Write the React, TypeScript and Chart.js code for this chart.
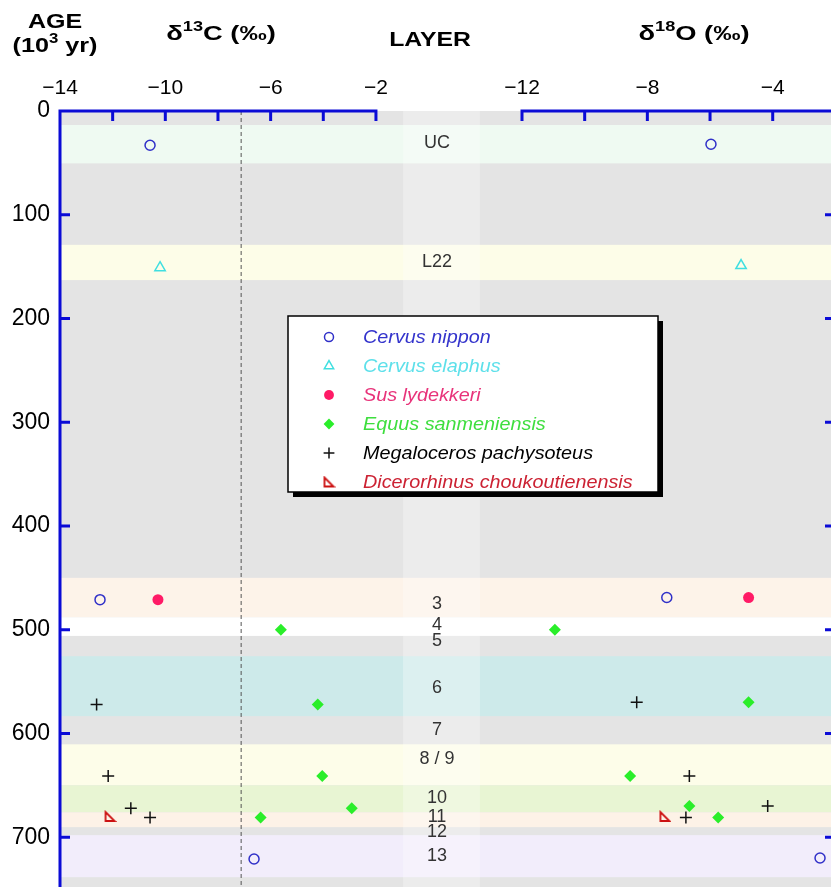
import React, { useEffect, useRef } from 'react';
import { Chart, registerables } from 'chart.js';
import { drawPoint } from 'chart.js/helpers';

Chart.register(...registerables);

// ---------- data ----------
const ageTicks = [0, 100, 200, 300, 400, 500, 600, 700];
const c13Ticks = [-14, -12, -10, -8, -6, -4, -2];
const c13Labels = [-14, -10, -6, -2];
const o18Ticks = [-12, -10, -8, -6, -4];
const o18Labels = [-12, -8, -4];

const layerNames = ['UC', 'L22', '3', '4', '5', '6', '7', '8 / 9', '10', '11', '12', '13'];
const layerTop = [13.5, 129, 450, 488, 506, 525.5, 583.5, 610.5, 650, 676, 690.5, 698];
const layerBottom = [50.5, 163, 488, 506, 525.5, 583.5, 610.5, 650, 676, 690.5, 698, 738.5];
const layerLabelAge = [31, 145.5, 475, 495.5, 511, 556, 596.5, 624.5, 662.5, 680.5, 695, 718];
const c13Reference = -7.12;

const nipponC13Age = [33, 471, 721];
const nipponC13 = [-10.58, -12.48, -6.63];
const nipponO18Age = [32, 469, 720];
const nipponO18 = [-5.97, -7.38, -2.49];

const elaphusC13Age = [151];
const elaphusC13 = [-10.2];
const elaphusO18Age = [149];
const elaphusO18 = [-5.01];

const susC13Age = [471];
const susC13 = [-10.28];
const susO18Age = [469];
const susO18 = [-4.77];

const equusC13Age = [500, 572, 641, 672, 681];
const equusC13 = [-5.61, -4.21, -4.04, -2.92, -6.38];
const equusO18Age = [500, 570, 641, 670, 681];
const equusO18 = [-10.95, -4.77, -8.55, -6.66, -5.74];

const megaC13Age = [572, 641, 672, 681];
const megaC13 = [-12.61, -12.17, -11.31, -10.58];
const megaO18Age = [570, 641, 670, 681];
const megaO18 = [-8.34, -6.66, -4.16, -6.77];

const dicerC13Age = [680];
const dicerC13 = [-12.1];
const dicerO18Age = [680];
const dicerO18 = [-7.44];

const speciesNames = [
  'Cervus nippon',
  'Cervus elaphus',
  'Sus lydekkeri',
  'Equus sanmeniensis',
  'Megaloceros pachysoteus',
  'Dicerorhinus choukoutienensis',
];
const speciesC13 = [nipponC13, elaphusC13, susC13, equusC13, megaC13, dicerC13];
const speciesC13Age = [nipponC13Age, elaphusC13Age, susC13Age, equusC13Age, megaC13Age, dicerC13Age];
const speciesO18 = [nipponO18, elaphusO18, susO18, equusO18, megaO18, dicerO18];
const speciesO18Age = [nipponO18Age, elaphusO18Age, susO18Age, equusO18Age, megaO18Age, dicerO18Age];

// ---------- styles ----------
const FAMILY = '"Liberation Sans", Arial, Helvetica, sans-serif';
const AXIS_BLUE = '#0b0bd6';
const BG_GRAY = '#e4e4e4';
const layerColors = ['#effaf2', '#fdfde8', '#fdf3e9', '#ffffff', '#e4e4e4', '#cdeaea', '#e4e4e4', '#fdfde9', '#e8f5d3', '#fdf2e7', '#e4e4e4', '#f2edfb'];
const layerColumn = [-0.97, 1.95];
const layerLabelX = 0.32;
const legendTextColors = ['#3434cc', '#5ee0ea', '#e8337a', '#3ede3e', '#000000', '#cc2233'];

function makeRightTriangle(color: string) {
  const c = document.createElement('canvas');
  c.width = 13;
  c.height = 13;
  const g = c.getContext('2d')!;
  g.strokeStyle = color;
  g.lineWidth = 1.8;
  g.beginPath();
  g.moveTo(2, 2);
  g.lineTo(2, 11);
  g.lineTo(11, 11);
  g.closePath();
  g.stroke();
  return c;
}

function fmtMinus(v: number) {
  return v < 0 ? '\u2212' + Math.abs(v) : String(v);
}

type Part = { text: string; font: string; dy: number };

function drawParts(ctx: CanvasRenderingContext2D, parts: Part[], cx: number, cy: number, sx: number) {
  ctx.save();
  ctx.textBaseline = 'middle';
  ctx.textAlign = 'left';
  ctx.fillStyle = '#000';
  let total = 0;
  const widths = parts.map((p) => {
    ctx.font = p.font;
    const w = ctx.measureText(p.text).width;
    total += w;
    return w;
  });
  ctx.translate(cx, cy);
  ctx.scale(sx, 1);
  let x = -total / 2;
  parts.forEach((p, i) => {
    ctx.font = p.font;
    ctx.fillText(p.text, x, p.dy);
    x += widths[i];
  });
  ctx.restore();
}

const zeroPadding = (s: any) => {
  s.paddingLeft = 0;
  s.paddingRight = 0;
  s.paddingTop = 0;
  s.paddingBottom = 0;
};

export default function App() {
  const ref = useRef<HTMLCanvasElement | null>(null);

  useEffect(() => {
    if (!ref.current) return;
    const tri = makeRightTriangle('#cc1111');
    const markerStyles: any[] = [
      { pointStyle: 'circle', radius: 5, borderWidth: 1.5, borderColor: '#3030c8', backgroundColor: 'rgba(0,0,0,0)' },
      { pointStyle: 'triangle', radius: 6, borderWidth: 1.5, borderColor: '#40dfe0', backgroundColor: 'rgba(0,0,0,0)' },
      { pointStyle: 'circle', radius: 5.5, borderWidth: 0, borderColor: '#ff1a66', backgroundColor: '#ff1a66' },
      { pointStyle: 'rectRot', radius: 6, borderWidth: 0, borderColor: '#2aee2a', backgroundColor: '#2aee2a' },
      { pointStyle: 'cross', radius: 6, borderWidth: 1.5, borderColor: '#111111', backgroundColor: '#111111' },
      { pointStyle: tri, radius: 6, borderWidth: 0, borderColor: '#cc1111', backgroundColor: '#cc1111' },
    ];

    const datasets: any[] = [];
    speciesNames.forEach((name, i) => {
      const st = markerStyles[i];
      const common = {
        type: 'scatter',
        showLine: false,
        pointStyle: st.pointStyle,
        pointRadius: st.radius,
        pointBorderWidth: st.borderWidth,
        pointBorderColor: st.borderColor,
        pointBackgroundColor: st.backgroundColor,
        yAxisID: 'y',
      };
      datasets.push({
        ...common,
        label: name + ' δ13C',
        xAxisID: 'x1',
        data: speciesC13[i].map((v, k) => ({ x: v, y: speciesC13Age[i][k] })),
      });
      datasets.push({
        ...common,
        label: name + ' δ18O',
        xAxisID: 'x2',
        data: speciesO18[i].map((v, k) => ({ x: v, y: speciesO18Age[i][k] })),
      });
    });
    datasets.push({
      type: 'line',
      label: 'reference',
      xAxisID: 'x1',
      yAxisID: 'y',
      data: [
        { x: c13Reference, y: 0 },
        { x: c13Reference, y: 748 },
      ],
      borderColor: '#555555',
      borderWidth: 1,
      borderDash: [4, 3],
      pointRadius: 0,
      fill: false,
    });

    const decor = {
      id: 'decor',
      beforeDraw(chart: any) {
        const { ctx, chartArea: a, scales } = chart;
        const y = scales.y;
        const x1 = scales.x1;
        ctx.save();
        ctx.fillStyle = BG_GRAY;
        ctx.fillRect(a.left, a.top, a.right - a.left, a.bottom - a.top);
        layerTop.forEach((t, i) => {
          const y0 = y.getPixelForValue(t);
          const y1 = y.getPixelForValue(layerBottom[i]);
          ctx.fillStyle = layerColors[i];
          ctx.fillRect(a.left, y0, a.right - a.left, y1 - y0);
        });
        const cx0 = x1.getPixelForValue(layerColumn[0]);
        const cx1 = x1.getPixelForValue(layerColumn[1]);
        ctx.fillStyle = 'rgba(255,255,255,0.3)';
        ctx.fillRect(cx0, a.top, cx1 - cx0, a.bottom - a.top);
        ctx.fillStyle = '#333333';
        ctx.font = '18px ' + FAMILY;
        ctx.textAlign = 'center';
        ctx.textBaseline = 'middle';
        layerNames.forEach((n, i) => {
          ctx.fillText(n, x1.getPixelForValue(layerLabelX), y.getPixelForValue(layerLabelAge[i]));
        });
        ctx.restore();
      },
      afterDatasetsDraw(chart: any) {
        const { ctx, chartArea: a, scales } = chart;
        const y = scales.y;
        const x1 = scales.x1;
        const x2 = scales.x2;
        ctx.save();
        ctx.strokeStyle = AXIS_BLUE;
        ctx.lineWidth = 3;
        ctx.lineCap = 'butt';
        ctx.beginPath();
        ctx.moveTo(a.left, a.top - 1.5);
        ctx.lineTo(a.left, a.bottom);
        ctx.moveTo(x1.getPixelForValue(-14) - 1.5, a.top);
        ctx.lineTo(x1.getPixelForValue(-2) + 1.5, a.top);
        ctx.moveTo(x2.getPixelForValue(-12) - 1.5, a.top);
        ctx.lineTo(a.right, a.top);
        ageTicks.forEach((v) => {
          const py = y.getPixelForValue(v);
          if (v > 0) {
            ctx.moveTo(a.left, py);
            ctx.lineTo(a.left + 10, py);
            ctx.moveTo(a.right - 6, py);
            ctx.lineTo(a.right, py);
          }
        });
        c13Ticks.forEach((v) => {
          const px = x1.getPixelForValue(v);
          ctx.moveTo(px, a.top);
          ctx.lineTo(px, a.top + 10);
        });
        o18Ticks.forEach((v) => {
          const px = x2.getPixelForValue(v);
          ctx.moveTo(px, a.top);
          ctx.lineTo(px, a.top + 10);
        });
        ctx.stroke();

        // legend
        const L = a.left + 228;
        const T = a.top + 205;
        const W = 370;
        const H = 176;
        ctx.fillStyle = '#000';
        ctx.fillRect(L + 5, T + 5, W, H);
        ctx.fillStyle = '#fff';
        ctx.fillRect(L, T, W, H);
        ctx.strokeStyle = '#000';
        ctx.lineWidth = 1.5;
        ctx.strokeRect(L, T, W, H);
        speciesNames.forEach((name, i) => {
          const st = markerStyles[i];
          const ry = T + 21 + i * 29;
          ctx.save();
          ctx.fillStyle = st.backgroundColor;
          ctx.strokeStyle = st.borderColor;
          ctx.lineWidth = st.borderWidth;
          drawPoint(ctx, { pointStyle: st.pointStyle, radius: st.radius * 0.9, rotation: 0, borderWidth: st.borderWidth }, L + 41, ry);
          ctx.restore();
          ctx.save();
          ctx.translate(L + 75, ry);
          ctx.scale(1.1, 1);
          ctx.fillStyle = legendTextColors[i];
          ctx.font = 'italic 18px ' + FAMILY;
          ctx.textAlign = 'left';
          ctx.textBaseline = 'middle';
          ctx.fillText(name, 0, 1);
          ctx.restore();
        });
        ctx.restore();
      },
      afterDraw(chart: any) {
        const { ctx } = chart;
        const big = 'bold 21px ' + FAMILY;
        const sup = 'bold 14px ' + FAMILY;
        drawParts(ctx, [{ text: 'AGE', font: big, dy: 0 }], 55, 22, 1.19);
        drawParts(
          ctx,
          [
            { text: '(10', font: big, dy: 0 },
            { text: '3', font: sup, dy: -7 },
            { text: ' yr)', font: big, dy: 0 },
          ],
          55,
          46,
          1.2
        );
        drawParts(
          ctx,
          [
            { text: 'δ', font: big, dy: 0 },
            { text: '13', font: sup, dy: -7 },
            { text: 'C (‰)', font: big, dy: 0 },
          ],
          221,
          34,
          1.3
        );
        drawParts(ctx, [{ text: 'LAYER', font: big, dy: 0 }], 430, 40, 1.18);
        drawParts(
          ctx,
          [
            { text: 'δ', font: big, dy: 0 },
            { text: '18', font: sup, dy: -7 },
            { text: 'O (‰)', font: big, dy: 0 },
          ],
          694,
          34,
          1.3
        );
      },
    };

    const tickFont = { size: 21, family: FAMILY };
    const chart = new Chart(ref.current, {
      type: 'scatter',
      data: { datasets },
      options: {
        responsive: false,
        animation: false,
        events: [],
        layout: { padding: 0, autoPadding: false },
        plugins: {
          legend: { display: false },
          tooltip: { enabled: false },
          title: { display: false },
        },
        scales: {
          x2: {
            type: 'linear',
            position: 'top',
            stack: 'top',
            stackWeight: 309,
            min: -12,
            max: -2.14,
            grid: { display: false, drawTicks: false },
            border: { display: false },
            afterBuildTicks: (s: any) => {
              s.ticks = o18Ticks.map((v) => ({ value: v }));
            },
            afterFit: (s: any) => {
              s.height = 111;
              zeroPadding(s);
            },
            ticks: {
              autoSkip: false,
              maxRotation: 0,
              padding: 10,
              color: '#000',
              font: tickFont,
              callback: (v: any) => (o18Labels.includes(Number(v)) ? fmtMinus(Number(v)) : ''),
            },
          },
          x1: {
            type: 'linear',
            position: 'top',
            stack: 'top',
            stackWeight: 462,
            min: -14,
            max: 3.547,
            grid: { display: false, drawTicks: false },
            border: { display: false },
            afterBuildTicks: (s: any) => {
              s.ticks = c13Ticks.map((v) => ({ value: v }));
            },
            afterFit: (s: any) => {
              s.height = 111;
              zeroPadding(s);
            },
            ticks: {
              autoSkip: false,
              maxRotation: 0,
              padding: 10,
              color: '#000',
              font: tickFont,
              callback: (v: any) => (c13Labels.includes(Number(v)) ? fmtMinus(Number(v)) : ''),
            },
          },
          y: {
            type: 'linear',
            position: 'left',
            reverse: true,
            min: 0,
            max: 748,
            grid: { display: false, drawTicks: false },
            border: { display: false },
            afterBuildTicks: (s: any) => {
              s.ticks = ageTicks.map((v) => ({ value: v }));
            },
            afterFit: (s: any) => {
              s.width = 60;
              zeroPadding(s);
            },
            ticks: {
              autoSkip: false,
              padding: 10,
              color: '#000',
              font: { size: 23, family: FAMILY },
            },
          },
        },
      } as any,
      plugins: [decor],
    } as any);
    return () => chart.destroy();
  }, []);

  return (
    <div style={{ position: 'fixed', left: 0, top: 0, width: 831, height: 887, background: '#fff' }}>
      <canvas ref={ref} width={831} height={887} style={{ display: 'block' }} />
    </div>
  );
}
